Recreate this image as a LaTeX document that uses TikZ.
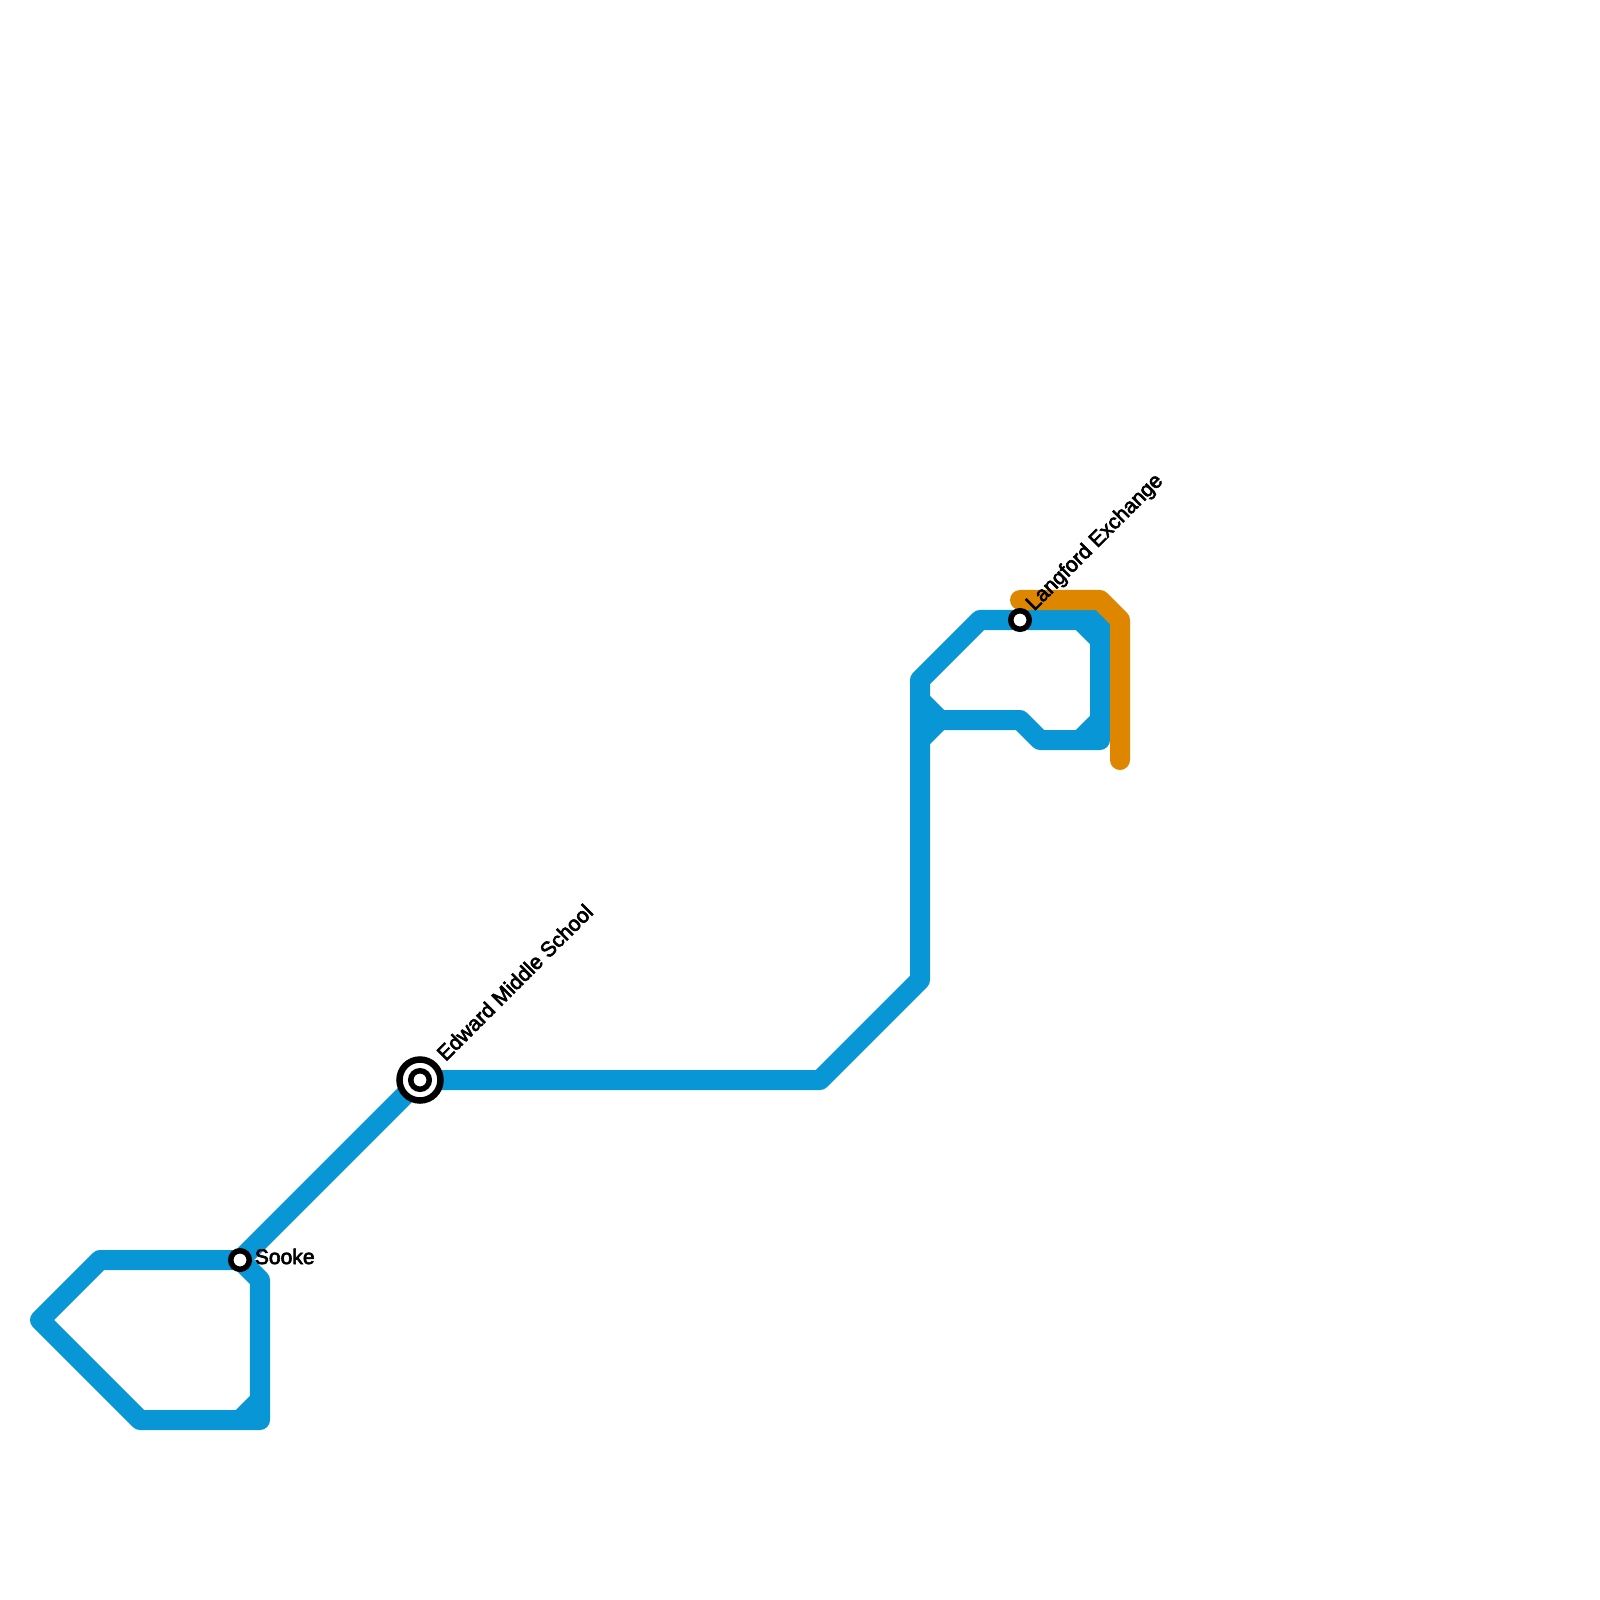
\documentclass[tikz,border=0pt]{standalone}
\usepackage{fontspec}
\newfontfamily\stationfont{Liberation Sans}[FakeBold=3]
\usetikzlibrary{positioning}
\definecolor{lineblue}{HTML}{0896D7}
\definecolor{lineorange}{HTML}{DF8600}
\tikzset{
	blueline/.style={draw=lineblue,line width=0.2cm,line join=round,line cap=round},
	orangeline/.style={draw=lineorange,line width=0.2cm,line join=round,line cap=round},
	stopring/.style={circle,draw=black,fill=white,line width=0.055cm,minimum size=0.185cm,inner sep=0pt},
	hubring/.style={circle,draw=black,fill=white,line width=0.065cm,minimum size=0.41cm,inner sep=0pt},
	stopname/.style={font=\stationfont\fontsize{6pt}{6pt}\selectfont,text=black,inner sep=0pt}
}

\begin{document}
\begin{tikzpicture}[x=0.01cm,y=-0.01cm]
	\useasboundingbox (0,0) rectangle (1600,1600);

	\begin{scope}
		% west loop
		\coordinate (w1) at (40,1320);
		\coordinate (w2) at (100,1260);
		\coordinate (w3) at (240,1260);
		\coordinate (w4) at (260,1280);
		\coordinate (w5) at (260,1420);
		\coordinate (w6) at (140,1420);
		\coordinate (w7) at (240,1420);
		\coordinate (w8) at (260,1400);
		% long run
		\coordinate (r1) at (420,1080);
		\coordinate (r2) at (820,1080);
		\coordinate (r3) at (920,980);
		\coordinate (r4) at (920,680);
		\coordinate (r5) at (980,620);
		% east loop
		\coordinate (e1) at (1080,620);
		\coordinate (e2) at (1100,640);
		\coordinate (e3) at (1100,740);
		\coordinate (e4) at (1040,740);
		\coordinate (e5) at (1020,720);
		\coordinate (e6) at (940,720);
		\coordinate (e7) at (920,700);
		\coordinate (e8) at (920,740);
		\coordinate (e9) at (1080,740);
		\coordinate (e10) at (1100,720);
		\coordinate (e11) at (1100,620);
		% orange line
		\coordinate (o1) at (1020,600);
		\coordinate (o2) at (1100,600);
		\coordinate (o3) at (1120,620);
		\coordinate (o4) at (1120,760);
	\end{scope}

	\begin{scope}
		\draw[blueline] (w3) -- (w2) -- (w1) -- (w6) -- (w5) -- (w4) -- (w3) -- (r1) -- (r2) -- (r3) -- (r4) -- (r5) -- (e1) -- (e2) -- (e3) -- (e4) -- (e5) -- (e6) -- (e7);
		\draw[blueline] (e6) -- (e8);
		\draw[blueline] (w7) -- (w8);
		\draw[blueline] (e9) -- (e10);
		\draw[blueline] (e1) -- (e11) -- (e2);
		\draw[orangeline] (o1) -- (o2) -- (o3) -- (o4);
	\end{scope}

	\node[stopring] (sooke) at (w3) {};
	\node[stopring] (langford) at (1020,620) {};
	\node[hubring] (edward) at (r1) {};
	\node[stopring] (edwardcore) at (r1) {};

	\node[stopname,right =0.6pt of sooke,yshift=1pt] (sookename) {Sooke};
	\node[stopname,rotate=45,anchor=west] (edwardname) at ([shift={(20,-23)}]edward) {Edward Middle School};
	\node[stopname,rotate=45,anchor=west] (langfordname) at ([shift={(10,-12)}]langford) {Langford Exchange};
\end{tikzpicture}
\end{document}
